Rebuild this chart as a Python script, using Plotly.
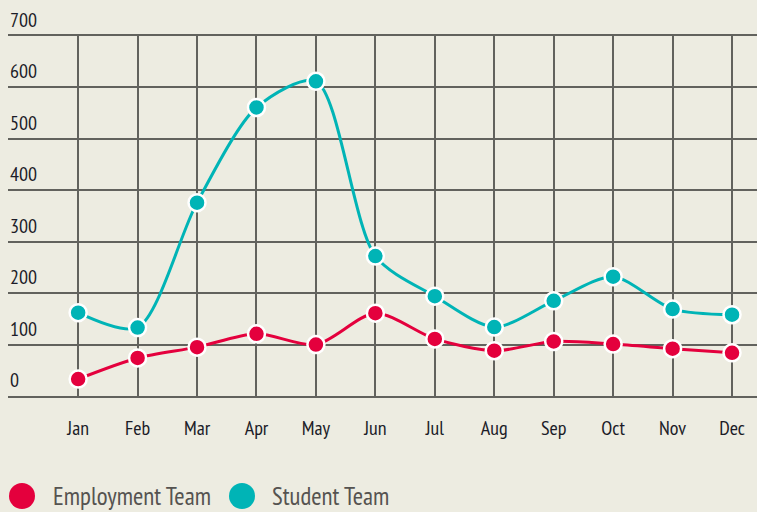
import plotly.graph_objects as go

months = ["Jan", "Feb", "Mar", "Apr", "May", "Jun", "Jul", "Aug", "Sep", "Oct", "Nov", "Dec"]
employment = [33, 74, 95, 121, 100, 161, 111, 88, 106, 101, 92, 84]
student = [162, 133, 376, 561, 612, 272, 194, 134, 185, 232, 169, 158]
series_names = ["Employment Team", "Student Team"]
colors = ["#E4003D", "#00B4B6"]
y_ticks = [0, 100, 200, 300, 400, 500, 600, 700]

FONT = "Liberation Sans Narrow, PT Sans Narrow, Roboto Condensed, DejaVu Sans Condensed, sans-serif"
BG = "#EDECE1"
W, H = 757, 512
ML, MR, MT, MB = 8, 0, 36, 116
GRID = "#62625d"

fig = go.Figure()
for name, vals, col in zip(series_names, [employment, student], colors):
    fig.add_trace(go.Scatter(
        x=months, y=vals, name=name, mode="lines+markers",
        line=dict(color=col, width=3, shape="spline", smoothing=0.8),
        marker=dict(size=17, color=col, line=dict(color="white", width=2.5)),
        showlegend=False,
    ))

annotations = []
for t in y_ticks:
    annotations.append(dict(
        xref="paper", x=0, xanchor="left", yref="y", y=t, yanchor="middle",
        yshift=16, text=str(t), showarrow=False,
        font=dict(family=FONT, size=20, color="#1c1c28"),
    ))

# manual legend (page pixel coordinates converted to paper fractions)
pw = W - ML - MR
ph = H - MT - MB
def px_x(p):
    return (p - ML) / pw
def px_y(p):
    return (H - MB - p) / ph

shapes = []
leg = [(22, 51), (242, 270)]
for (cx, tx), name, col in zip(leg, series_names, colors):
    r = 13
    shapes.append(dict(type="circle", xref="paper", yref="paper",
                       x0=px_x(cx - r), x1=px_x(cx + r), y0=px_y(496 + r), y1=px_y(496 - r),
                       fillcolor=col, line=dict(width=0)))
    annotations.append(dict(xref="paper", yref="paper", x=px_x(tx), y=px_y(496),
                            xanchor="left", yanchor="middle", text=name, showarrow=False,
                            font=dict(family=FONT, size=25, color="#555350")))

fig.update_layout(
    width=W, height=H,
    margin=dict(l=ML, r=MR, t=MT, b=MB),
    paper_bgcolor=BG, plot_bgcolor=BG,
    shapes=shapes, annotations=annotations,
    showlegend=False,
    xaxis=dict(
        type="category", range=[-1.18, 11.42],
        showgrid=True, gridcolor=GRID, gridwidth=1.5,
        zeroline=False, showline=True, mirror=True, linecolor=GRID, linewidth=1.5,
        ticks="",
        tickfont=dict(family=FONT, size=20, color="#1c1c28"),
        ticklabelstandoff=13,
    ),
    yaxis=dict(
        range=[0, 700], tickvals=y_ticks, showticklabels=False,
        showgrid=True, gridcolor=GRID, gridwidth=1.5,
        zeroline=False, showline=False,
    ),
)
fig.write_html(
    "out.html",
    config={"displayModeBar": False},
    post_script="document.body.style.margin='0';document.body.style.background='" + BG + "';",
)
